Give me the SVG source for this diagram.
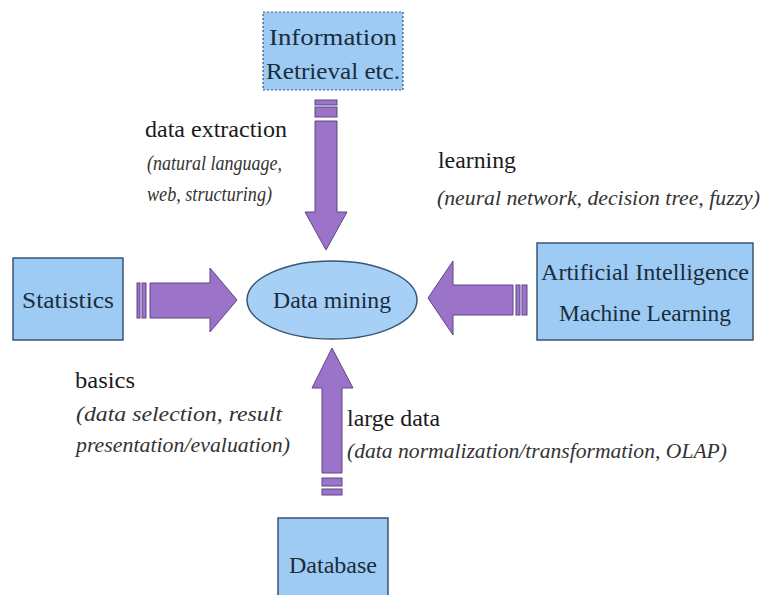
<svg xmlns="http://www.w3.org/2000/svg" width="762" height="595" viewBox="0 0 762 595">
<style>
.box{fill:#9dcbf4;stroke:#3a5674;stroke-width:1.5}
.dot{fill:#9dcbf4;stroke:#3a5674;stroke-width:1.2;stroke-dasharray:2 2}
.arr{fill:#9b74c9;stroke:#5e4585;stroke-width:1}
.nt{font-size:24px;fill:#1b2c3c;text-anchor:middle}
.lb{font-size:24px;fill:#1a1a1a}
.it{font-size:21px;font-style:italic;fill:#333}
</style>
<rect width="762" height="595" fill="#ffffff"/>
<g font-family="Liberation Serif, Times New Roman, serif">
<g id="info">
<rect class="dot" x="263" y="12" width="140" height="78"/>
<text class="nt" x="333" y="45" textLength="128" lengthAdjust="spacingAndGlyphs">Information</text>
<text class="nt" x="333" y="79" textLength="134" lengthAdjust="spacingAndGlyphs">Retrieval etc.</text>
</g>
<g id="statistics">
<rect class="box" x="13" y="258" width="110" height="82"/>
<text class="nt" x="68" y="308" textLength="92" lengthAdjust="spacingAndGlyphs">Statistics</text>
</g>
<g id="datamining">
<ellipse cx="332" cy="300" rx="85" ry="39" fill="#a6d0f6" stroke="#3a5674" stroke-width="1.5"/>
<text class="nt" x="332" y="308" textLength="118" lengthAdjust="spacingAndGlyphs">Data mining</text>
</g>
<g id="ai">
<rect class="box" x="537" y="243" width="216" height="97"/>
<text class="nt" x="645" y="280" textLength="208" lengthAdjust="spacingAndGlyphs">Artificial Intelligence</text>
<text class="nt" x="645" y="321" textLength="172" lengthAdjust="spacingAndGlyphs">Machine Learning</text>
</g>
<g id="database">
<rect class="box" x="278" y="518" width="110" height="90"/>
<text class="nt" x="333" y="573" textLength="88" lengthAdjust="spacingAndGlyphs">Database</text>
</g>
<g id="connectors">
<rect class="arr" x="315" y="100" width="22" height="5"/>
<rect class="arr" x="315" y="107" width="22" height="10"/>
<polygon class="arr" points="315,121 337,121 337,212 347,212 326,250 305,212 315,212"/>
<rect class="arr" x="137" y="283" width="3" height="35"/>
<rect class="arr" x="142" y="283" width="4" height="35"/>
<polygon class="arr" points="150,283 210,283 210,268 237,300 210,332 210,318 150,318"/>
<rect class="arr" x="516" y="285" width="4" height="30"/>
<rect class="arr" x="522" y="285" width="5" height="30"/>
<polygon class="arr" points="513,285 453,285 453,261 428,298 453,335 453,315 513,315"/>
<polygon class="arr" points="332,348 353,388 342,388 342,473 322,473 322,388 312,388"/>
<rect class="arr" x="322" y="478" width="20" height="8"/>
<rect class="arr" x="322" y="489" width="20" height="6"/>
</g>
<g id="labels">
<text class="lb" x="145" y="137" textLength="142" lengthAdjust="spacingAndGlyphs">data extraction</text>
<text class="it" x="147" y="170" textLength="135" lengthAdjust="spacingAndGlyphs">(natural language,</text>
<text class="it" x="147" y="201" textLength="125" lengthAdjust="spacingAndGlyphs">web, structuring)</text>
<text class="lb" x="438" y="168" textLength="78" lengthAdjust="spacingAndGlyphs">learning</text>
<text class="it" x="437" y="205" textLength="323" lengthAdjust="spacingAndGlyphs">(neural network, decision tree, fuzzy)</text>
<text class="lb" x="75" y="388" textLength="60" lengthAdjust="spacingAndGlyphs">basics</text>
<text class="it" x="76" y="421" textLength="206" lengthAdjust="spacingAndGlyphs">(data selection, result</text>
<text class="it" x="76" y="452" textLength="214" lengthAdjust="spacingAndGlyphs">presentation/evaluation)</text>
<text class="lb" x="347" y="426" textLength="93" lengthAdjust="spacingAndGlyphs">large data</text>
<text class="it" x="347" y="458" textLength="380" lengthAdjust="spacingAndGlyphs">(data normalization/transformation, OLAP)</text>
</g>
</g>
</svg>
